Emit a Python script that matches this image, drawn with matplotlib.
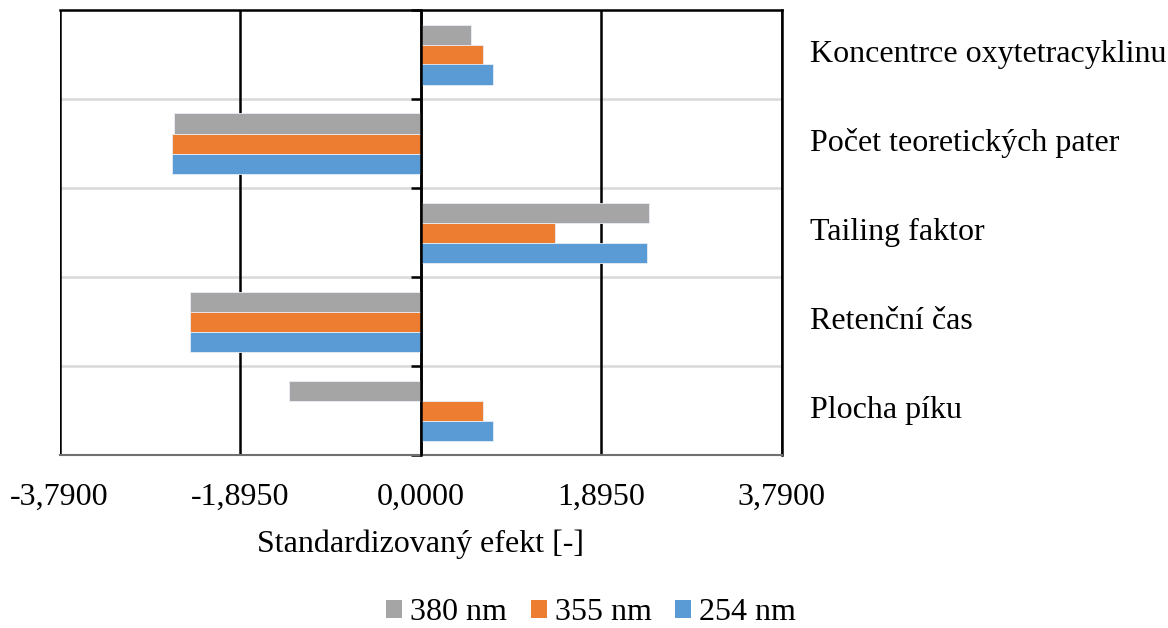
import matplotlib
matplotlib.use("Agg")
import matplotlib.pyplot as plt
import matplotlib.transforms as mtransforms
from matplotlib.patches import Patch
import numpy as np

plt.rcParams['font.family'] = ['Liberation Serif', 'DejaVu Serif']

categories = ["Plocha píku", "Retenční čas", "Tailing faktor",
              "Počet teoretických pater", "Koncentrce oxytetracyklinu"]
series_names = ["380 nm", "355 nm", "254 nm"]
v380 = [-1.379, -2.422, 2.397, -2.586, 0.532]
v355 = [0.654, -2.422, 1.410, -2.614, 0.654]
v254 = [0.756, -2.422, 2.376, -2.611, 0.756]
colors = ["#A5A5A5", "#ED7D31", "#5B9BD5"]
xticks = [-3.79, -1.895, 0.0, 1.895, 3.79]
xtick_labels = ["-3,7900", "-1,8950", "0,0000", "1,8950", "3,7900"]

FS = 23
W, H = 1168, 628
fig = plt.figure(figsize=(W / 100, H / 100), dpi=100)
l, r, t, b = 59.5, 781.5, 10, 455
ax = fig.add_axes([l / W, 1 - b / H, (r - l) / W, (b - t) / H])

y = np.arange(len(categories))
h = 20 / 89
for vals, off, c in zip([v380, v355, v254], [h, 0, -h], colors):
    ax.barh(y + off, vals, height=h, color=c, edgecolor='#e8eef5', linewidth=0.6, zorder=3)

ax.set_xlim(-3.79, 3.79)
ax.set_ylim(-0.5, len(categories) - 0.5)
ax.set_xticks(xticks)
ax.set_xticklabels(xtick_labels, fontsize=FS)
ax.tick_params(axis='x', length=0, pad=20)
for xv in xticks:
    ax.axvline(xv, color='black', lw=1.8, zorder=2)

# category boundary lines
bounds = np.arange(len(categories) + 1) - 0.5
ax.set_yticks(bounds)
ax.set_yticklabels([])
ax.tick_params(axis='y', length=7, width=1.8, direction='out', color='black')
for bv in bounds[1:-1]:
    ax.axhline(bv, color='#d9d9d9', lw=1.8, zorder=1)

ax.spines['left'].set_position(('data', 0))
ax.spines['left'].set_linewidth(1.8)
ax.spines['left'].set_zorder(4)
for s in ['top', 'right']:
    ax.spines[s].set_linewidth(1.8)
    ax.spines[s].set_color('black')
ax.spines['bottom'].set_linewidth(1.5)
ax.spines['bottom'].set_color('#707070')

trans = mtransforms.blended_transform_factory(ax.transAxes, ax.transData)
for yi, cat in zip(y, categories):
    ax.text(1.039, yi, cat, transform=trans, ha='left', va='center', fontsize=FS)

ax.set_xlabel("Standardizovaný efekt [-]", fontsize=FS, labelpad=13)

handles = [Patch(facecolor=c, edgecolor='none') for c in colors]
fig.legend(handles, series_names, loc='center', bbox_to_anchor=(591 / W, 1 - 613 / H),
           ncol=3, frameon=False, fontsize=FS, handlelength=0.5, handleheight=0.5,
           handletextpad=0.25, columnspacing=0.75, borderpad=0.2)

fig.savefig("out.png", dpi=100)
